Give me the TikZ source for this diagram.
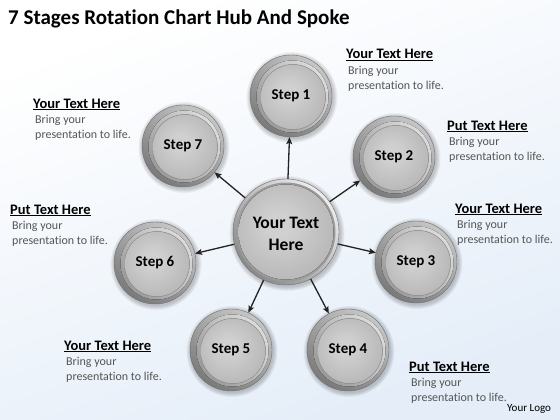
\documentclass[tikz,border=0pt]{standalone}
\usepackage{fontspec}
\setmainfont{Carlito}[Ligatures={NoCommon}]
\usetikzlibrary{arrows.meta}
\definecolor{bgblue}{HTML}{E4EDF8}
\definecolor{innerL}{HTML}{D0D0D0}
\definecolor{innerM}{HTML}{B6B6B6}
\definecolor{innerD}{HTML}{868686}
\definecolor{ringL}{HTML}{C6C6C6}
\definecolor{ringD}{HTML}{7A7A7A}
\definecolor{rimL}{HTML}{DCDCDC}
\definecolor{rimD}{HTML}{9A9A9A}
\definecolor{hubL}{HTML}{EDEDED}
\definecolor{hubD}{HTML}{8A8A8A}
\definecolor{edgec}{HTML}{6E6E6E}
\definecolor{bodygray}{HTML}{555555}
\definecolor{arrowc}{HTML}{222222}
\pgfdeclareradialshading{ballshade}{\pgfpoint{-4bp}{4bp}}{color(0bp)=(innerL); color(6bp)=(innerL); color(30bp)=(innerM); color(52bp)=(innerD); color(60bp)=(innerD)}
\tikzset{
  outerring/.style={circle, inner sep=0pt, minimum size=#1, left color=ringL, right color=ringD, shading angle=-35, draw=edgec, line width=0.4pt},
  hubring/.style={circle, inner sep=0pt, minimum size=#1, left color=hubL, right color=hubD, shading angle=-45, draw=edgec, line width=0.4pt},
  rimring/.style={left color=rimL, right color=rimD, shading angle=-50},
  innerdisc/.style={shading=ballshade},
  steplabel/.style={font=\bfseries\fontsize{15}{18}\selectfont, text=black},
  hublabel/.style={font=\bfseries\fontsize{17.5}{22}\selectfont, text=black, align=center},
  arrowline/.style={draw=arrowc, line width=1.3pt, -{Stealth[length=7pt,width=6pt,inset=1.5pt]}},
  headtext/.style={anchor=base west, inner sep=0pt, font=\bfseries\fontsize{14.5}{17}\selectfont, text=black},
  bodytext/.style={anchor=base west, inner sep=0pt, font=\fontsize{12}{15}\selectfont, text=bodygray},
  titletext/.style={anchor=base west, inner sep=0pt, font=\bfseries\fontsize{21}{25}\selectfont, text=black},
  logotext/.style={anchor=base west, inner sep=0pt, font=\fontsize{11}{13}\selectfont, text=black}
}
\begin{document}
\begin{tikzpicture}[x=1pt,y=-1pt]
\useasboundingbox (0,0) rectangle (560,420);
\fill[left color=white, right color=bgblue, shading angle=20] (0,0) rectangle (560,420);
% shadows
\foreach \p/\r in {{(291,96)}/41,{(394,157)}/41,{(416,262)}/41,{(348,350)}/41,{(231,350)}/41,{(155,263)}/41,{(183,146)}/41,{(286,232)}/53}{
  \foreach \k in {1,...,5}{
    \fill[black, opacity=0.045] \p ++(1,1.5) circle ({\r+\k*0.9});
  }
}
% hub
\node[hubring=106pt] (hub) at (286,232) {};
\fill[rimD] (hub.center) circle (49.5);
\fill[innerdisc] (hub.center) circle (47.5);
\node[hublabel] (hubl) at (286,234) {Your Text\\Here};
% steps
\foreach \n/\p in {1/{(291,96)},2/{(394,157)},3/{(416,262)},4/{(348,350)},5/{(231,350)},6/{(155,263)},7/{(183,146)}}{
  \node[outerring=82pt] (s\n) at \p {};
  \fill[rimring] (s\n.center) ++(1.5,0.5) circle (36);
  \fill[innerdisc, draw=rimD, line width=0.5pt] (s\n.center) ++(2,1) circle (32.5);
  \node[steplabel] (l\n) at (s\n.center) {Step \n};
}
% arrows
\foreach \n in {1,...,7}{
  \draw[arrowline] (hub) -- (s\n);
}
% title and logo
\node[titletext] (title) at (8,25) {7 Stages Rotation Chart Hub And Spoke};
\node[logotext] (logo) at (507,411) {Your Logo};
% text blocks
\foreach \n/\x/\y/\h in {1/346/59/Your Text Here, 2/447/130/Put Text Here, 3/455/213/Your Text Here, 4/409/371/Put Text Here, 5/64/350/Your Text Here, 6/10/214/Put Text Here, 7/33/108/Your Text Here}{
  \node[headtext] (h\n) at (\x,\y) {\underline{\h}};
  \node[bodytext] (ba\n) at (\x+2,\y+15.5) {Bring your};
  \node[bodytext] (bb\n) at (\x+2,\y+30.5) {presentation to life.};
}
\end{tikzpicture}
\end{document}
